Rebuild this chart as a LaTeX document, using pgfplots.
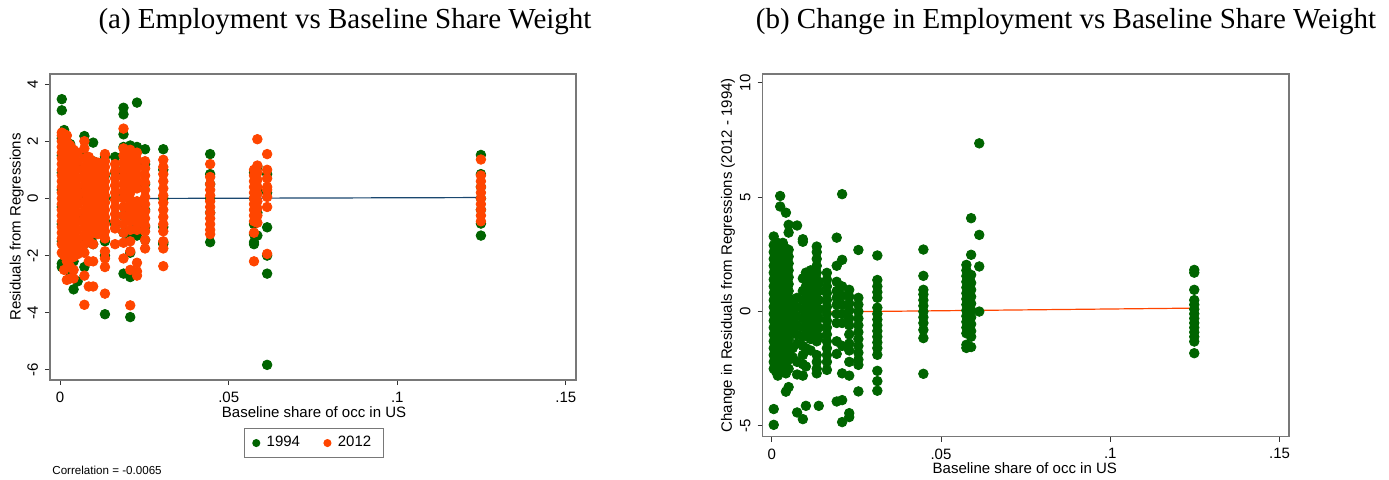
\documentclass[border=0pt]{standalone}
\usepackage{fontspec}
\setmainfont{Liberation Sans}
\newfontfamily\seriffont{Liberation Serif}
\usepackage{pgfplots}
\pgfplotsset{compat=1.18}

\definecolor{dkgreen}{RGB}{0,100,0}
\definecolor{orred}{RGB}{255,69,0}
\definecolor{statanavy}{RGB}{26,71,111}
\definecolor{framegray}{RGB}{120,120,120}

\pgfplotsset{
  statastyle/.style={
    scale only axis,
    axis line style={framegray, line width=0.7pt},
    tick pos=left, tick align=outside,
    major tick length=2.5pt,
    every tick/.style={black!80, line width=0.5pt},
    font=\fontsize{7.5}{9}\selectfont,
    /pgf/number format/assume math mode=true,
    xtick={0,0.05,0.1,0.15},
    xticklabels={0,.05,.1,.15},
    yticklabel style={rotate=90, anchor=south},
  },
  grn/.style={only marks, mark=*, mark size=2.4pt, color=dkgreen},
  org/.style={only marks, mark=*, mark size=2.4pt, color=orred},
}

\begin{document}
\begin{tikzpicture}
\useasboundingbox (0,0) rectangle (694.5pt,239.5pt);

\node[font=\seriffont\fontsize{14.5}{16}\selectfont] at (172.5pt,228.5pt) {(a) Employment vs Baseline Share Weight};
\node[font=\seriffont\fontsize{14.5}{16}\selectfont] at (533pt,228.5pt) {(b) Change in Employment vs Baseline Share Weight};

% panel (a)
\begin{axis}[statastyle,
  at={(25pt,49.5pt)}, anchor=south west,
  width=263pt, height=153pt,
  xmin=-0.003, xmax=0.153, ymin=-6.35, ymax=4.35,
  ytick={-6,-4,...,4},
  xlabel={Baseline share of occ in US},
  ylabel={Residuals from Regressions},
  xlabel style={at={(axis description cs:0.502,-0.105)}, anchor=center},
  ylabel style={at={(axis description cs:-0.063,0.5)}, anchor=center},
  legend columns=2,
  legend style={at={(axis description cs:0.502,-0.206)}, anchor=center,
    draw=framegray, line width=0.6pt, font=\fontsize{7.5}{9}\selectfont,
    inner xsep=4pt,
    /tikz/every odd column/.append style={column sep=1.5pt},
    /tikz/every even column/.append style={column sep=10pt}},
  legend image post style={mark size=1.7pt},
]
\addplot[grn] coordinates {
(0.0005,3.47)(0.0005,3.08)(0.0005,2.1)(0.0005,1.5)(0.0005,0.9)(0.0005,0.3)(0.0005,-0.3)(0.0005,-0.9)(0.0005,-1.5)(0.0005,-2.28)(0.0005,-2.4)
(0.0012,2.39)(0.0012,1.7)(0.0012,1.0)(0.0012,0.2)(0.0012,-0.6)(0.0012,-1.4)(0.0012,-2.0)
(0.002,2.0)(0.002,1.2)(0.002,0.4)(0.002,-0.4)(0.002,-1.2)(0.002,-1.9)(0.002,-2.35)
(0.003,1.9)(0.003,1.0)(0.003,0.0)(0.003,-1.0)(0.003,-2.0)(0.003,-2.6)
(0.004,1.4)(0.004,0.5)(0.004,-0.5)(0.004,-1.5)(0.004,-2.2)(0.004,-3.18)
(0.0052,1.2)(0.0052,0.3)(0.0052,-0.6)(0.0052,-1.5)(0.0052,-2.9)
(0.0072,2.18)(0.0072,1.5)(0.0072,0.8)(0.0072,0.0)(0.0072,-0.8)(0.0072,-1.6)(0.0072,-2.4)
(0.0085,1.2)(0.0085,0.5)(0.0085,-0.3)(0.0085,-1.3)(0.0085,-1.45)
(0.0098,1.95)(0.0098,1.3)(0.0098,0.6)(0.0098,-0.4)(0.0098,-1.3)(0.0098,-1.6)
(0.0112,1.0)(0.0112,0.2)(0.0112,-0.6)(0.0112,-1.2)
(0.0133,1.45)(0.0133,0.8)(0.0133,0.0)(0.0133,-0.8)(0.0133,-1.5)(0.0133,-2.0)(0.0133,-4.05)
(0.0163,1.45)(0.0163,0.9)(0.0163,0.0)(0.0163,-0.9)
(0.0188,3.17)(0.0188,2.94)(0.0188,2.24)(0.0188,1.8)(0.0188,1.0)(0.0188,0.2)(0.0188,-0.6)(0.0188,-1.2)(0.0188,-2.63)
(0.0208,1.85)(0.0208,1.2)(0.0208,0.4)(0.0208,-0.5)(0.0208,-1.4)(0.0208,-1.9)(0.0208,-2.75)(0.0208,-4.15)
(0.0228,3.35)(0.0228,1.8)(0.0228,1.2)(0.0228,0.5)(0.0228,-0.3)(0.0228,-1.0)(0.0228,-1.3)
(0.0252,1.72)(0.0252,1.2)(0.0252,0.5)(0.0252,-0.4)(0.0252,-1.0)(0.0252,-1.45)
(0.0306,1.72)(0.0306,1.0)(0.0306,0.0)(0.0306,-1.0)(0.0306,-1.6)(0.0306,-1.55)
(0.0445,1.55)(0.0445,0.85)(0.0445,0.5)(0.0445,0.0)(0.0445,-0.5)(0.0445,-1.53)
(0.0575,0.9)(0.0575,0.0)(0.0575,-0.9)(0.0575,-1.25)(0.0575,-1.53)(0.0575,-1.6)
(0.0585,1.1)(0.0585,0.3)(0.0585,-0.5)(0.0585,-1.3)
(0.0614,0.85)(0.0614,0.2)(0.0614,-1.01)(0.0614,-2.0)(0.0614,-2.63)(0.0614,-5.82)
(0.1248,1.52)(0.1248,0.85)(0.1248,0.4)(0.1248,0.0)(0.1248,-0.4)(0.1248,-0.88)(0.1248,-1.3)
};
\addlegendentry{1994}
\addplot[org] coordinates {
(0.0005,2.3)(0.0005,2.2)(0.0005,2.0)(0.0005,1.8)(0.0005,1.6)(0.0005,1.4)(0.0005,1.2)(0.0005,1.0)(0.0005,0.8)(0.0005,0.6)(0.0005,0.4)(0.0005,0.2)(0.0005,0.0)(0.0005,-0.2)(0.0005,-0.4)(0.0005,-0.6)(0.0005,-0.8)(0.0005,-1.0)(0.0005,-1.2)(0.0005,-1.4)(0.0005,-1.6)(0.0005,-1.9)
(0.0012,2.25)(0.0012,1.9)(0.0012,1.7)(0.0012,1.5)(0.0012,1.3)(0.0012,1.1)(0.0012,0.9)(0.0012,0.7)(0.0012,0.5)(0.0012,0.3)(0.0012,0.1)(0.0012,-0.1)(0.0012,-0.3)(0.0012,-0.5)(0.0012,-0.7)(0.0012,-0.9)(0.0012,-1.1)(0.0012,-1.3)(0.0012,-1.5)(0.0012,-1.8)(0.0012,-2.0)(0.0012,-2.5)
(0.002,2.2)(0.002,2.0)(0.002,1.75)(0.002,1.5)(0.002,1.25)(0.002,1.0)(0.002,0.75)(0.002,0.5)(0.002,0.25)(0.002,0)(0.002,-0.25)(0.002,-0.5)(0.002,-0.75)(0.002,-1.0)(0.002,-1.25)(0.002,-1.5)(0.002,-1.75)(0.002,-2.0)(0.002,-2.2)(0.002,-2.85)
(0.003,1.85)(0.003,1.6)(0.003,1.4)(0.003,1.2)(0.003,0.95)(0.003,0.7)(0.003,0.45)(0.003,0.2)(0.003,-0.05)(0.003,-0.3)(0.003,-0.55)(0.003,-0.8)(0.003,-1.05)(0.003,-1.3)(0.003,-1.55)(0.003,-1.8)(0.003,-2.1)(0.003,-2.4)(0.003,-2.8)
(0.004,1.7)(0.004,1.45)(0.004,1.2)(0.004,0.9)(0.004,0.6)(0.004,0.3)(0.004,0)(0.004,-0.3)(0.004,-0.6)(0.004,-0.9)(0.004,-1.2)(0.004,-1.5)(0.004,-1.8)(0.004,-2.05)(0.004,-2.5)(0.004,-2.8)
(0.0052,1.6)(0.0052,1.3)(0.0052,1.0)(0.0052,0.7)(0.0052,0.4)(0.0052,0.1)(0.0052,-0.2)(0.0052,-0.5)(0.0052,-0.8)(0.0052,-1.1)(0.0052,-1.4)(0.0052,-1.7)(0.0052,-1.95)
(0.0072,2.0)(0.0072,1.75)(0.0072,1.4)(0.0072,1.1)(0.0072,0.8)(0.0072,0.5)(0.0072,0.2)(0.0072,-0.1)(0.0072,-0.4)(0.0072,-0.7)(0.0072,-1.0)(0.0072,-1.3)(0.0072,-1.6)(0.0072,-1.9)(0.0072,-2.7)(0.0072,-3.72)
(0.0085,1.45)(0.0085,1.2)(0.0085,0.9)(0.0085,0.6)(0.0085,0.3)(0.0085,0.0)(0.0085,-0.3)(0.0085,-0.6)(0.0085,-0.9)(0.0085,-1.2)(0.0085,-1.45)(0.0085,-2.2)(0.0085,-3.08)
(0.0098,1.3)(0.0098,1.05)(0.0098,0.8)(0.0098,0.55)(0.0098,0.3)(0.0098,0.05)(0.0098,-0.2)(0.0098,-0.45)(0.0098,-0.7)(0.0098,-0.95)(0.0098,-1.2)(0.0098,-1.6)(0.0098,-2.2)(0.0098,-3.08)
(0.0112,1.25)(0.0112,1.0)(0.0112,0.75)(0.0112,0.5)(0.0112,0.25)(0.0112,0)(0.0112,-0.25)(0.0112,-0.5)(0.0112,-0.75)(0.0112,-1.0)(0.0112,-1.25)
(0.0133,1.55)(0.0133,1.3)(0.0133,1.1)(0.0133,0.85)(0.0133,0.6)(0.0133,0.35)(0.0133,0.1)(0.0133,-0.15)(0.0133,-0.4)(0.0133,-0.65)(0.0133,-0.9)(0.0133,-1.15)(0.0133,-1.4)(0.0133,-1.85)(0.0133,-2.1)(0.0133,-2.4)(0.0133,-3.33)
(0.0163,1.2)(0.0163,0.95)(0.0163,0.7)(0.0163,0.45)(0.0163,0.2)(0.0163,-0.05)(0.0163,-0.3)(0.0163,-0.55)(0.0163,-0.8)(0.0163,-1.05)(0.0163,-1.6)
(0.0188,2.44)(0.0188,1.75)(0.0188,1.5)(0.0188,1.25)(0.0188,1.0)(0.0188,0.75)(0.0188,0.5)(0.0188,0.25)(0.0188,0)(0.0188,-0.3)(0.0188,-0.6)(0.0188,-0.9)(0.0188,-1.2)(0.0188,-1.55)(0.0188,-2.1)
(0.0208,1.7)(0.0208,1.45)(0.0208,1.2)(0.0208,0.95)(0.0208,0.7)(0.0208,0.45)(0.0208,0.2)(0.0208,-0.05)(0.0208,-0.3)(0.0208,-0.55)(0.0208,-0.8)(0.0208,-1.1)(0.0208,-1.5)(0.0208,-1.85)(0.0208,-2.5)(0.0208,-3.74)
(0.0228,1.6)(0.0228,1.35)(0.0228,1.1)(0.0228,0.85)(0.0228,0.6)(0.0228,0.35)(0.0228,-0.1)(0.0228,-0.35)(0.0228,-0.6)(0.0228,-0.85)(0.0228,-1.1)(0.0228,-2.25)(0.0228,-2.55)(0.0228,-2.7)
(0.0252,1.3)(0.0252,1.05)(0.0252,0.8)(0.0252,0.55)(0.0252,0.3)(0.0252,0.05)(0.0252,-0.2)(0.0252,-0.45)(0.0252,-0.7)(0.0252,-0.95)(0.0252,-1.15)(0.0252,-1.45)(0.0252,-1.75)
(0.0306,1.35)(0.0306,1.1)(0.0306,0.85)(0.0306,0.6)(0.0306,0.35)(0.0306,0.1)(0.0306,-0.15)(0.0306,-0.4)(0.0306,-0.65)(0.0306,-0.9)(0.0306,-1.15)(0.0306,-1.5)(0.0306,-1.75)(0.0306,-2.37)
(0.0445,1.2)(0.0445,0.75)(0.0445,0.5)(0.0445,0.3)(0.0445,0.1)(0.0445,-0.1)(0.0445,-0.3)(0.0445,-0.5)(0.0445,-0.7)(0.0445,-0.9)(0.0445,-1.1)(0.0445,-1.25)
(0.0575,1.0)(0.0575,0.8)(0.0575,0.6)(0.0575,0.4)(0.0575,0.2)(0.0575,0.0)(0.0575,-0.2)(0.0575,-0.4)(0.0575,-0.6)(0.0575,-0.8)(0.0575,-1.2)(0.0575,-2.2)
(0.0585,2.07)(0.0585,1.15)(0.0585,0.9)(0.0585,0.65)(0.0585,0.4)(0.0585,0.15)(0.0585,-0.1)(0.0585,-0.35)(0.0585,-0.6)(0.0585,-0.85)
(0.0614,1.55)(0.0614,1.0)(0.0614,0.7)(0.0614,0.4)(0.0614,0.3)(0.0614,0.05)(0.0614,-0.3)(0.0614,-1.94)
(0.1248,1.36)(0.1248,0.8)(0.1248,0.6)(0.1248,0.4)(0.1248,0.2)(0.1248,0.0)(0.1248,-0.2)(0.1248,-0.4)(0.1248,-0.6)(0.1248,-0.8)
};
\addlegendentry{2012}
\addplot[statanavy, line width=0.6pt, forget plot] coordinates {(0.0005,-0.01)(0.1248,0.03)};
\end{axis}

\node[anchor=west, inner sep=0pt, font=\fontsize{5.8}{7}\selectfont] at (26pt,4.5pt) {Correlation = -0.0065};

% panel (b)
\begin{axis}[statastyle,
  at={(381.35pt,21.25pt)}, anchor=south west,
  width=263.15pt, height=181.25pt,
  xmin=-0.00266, xmax=0.15278, ymin=-5.46, ymax=10.38,
  ytick={-5,0,5,10},
  xlabel={Baseline share of occ in US},
  ylabel={Change in Residuals from Regressions (2012 - 1994)},
  xlabel style={at={(axis description cs:0.498,-0.086)}, anchor=center},
  ylabel style={at={(axis description cs:-0.066,0.5)}, anchor=center},
]
\addplot[grn] coordinates {
(0.0006,3.28)(0.0006,2.9)(0.0006,2.6)(0.0006,2.3)(0.0006,2.0)(0.0006,1.7)(0.0006,1.4)(0.0006,1.1)(0.0006,0.8)(0.0006,0.5)(0.0006,0.2)(0.0006,-0.1)(0.0006,-0.4)(0.0006,-0.7)(0.0006,-1.0)(0.0006,-1.3)(0.0006,-1.6)(0.0006,-1.9)(0.0006,-2.2)(0.0006,-2.5)(0.0006,-4.26)(0.0006,-4.95)
(0.0012,2.2)(0.0012,1.9)(0.0012,1.6)(0.0012,1.3)(0.0012,1.0)(0.0012,0.7)(0.0012,0.4)(0.0012,0.1)(0.0012,-0.2)(0.0012,-0.5)(0.0012,-0.8)(0.0012,-1.1)(0.0012,-1.4)(0.0012,-1.7)(0.0012,-2.6)
(0.0018,3.0)(0.0018,2.7)(0.0018,2.4)(0.0018,2.1)(0.0018,1.8)(0.0018,1.5)(0.0018,1.2)(0.0018,0.9)(0.0018,0.6)(0.0018,0.3)(0.0018,0.0)(0.0018,-0.3)(0.0018,-0.6)(0.0018,-0.9)(0.0018,-1.2)(0.0018,-1.5)(0.0018,-1.8)(0.0018,-2.1)(0.0018,-2.4)(0.0018,-2.8)
(0.0025,5.05)(0.0025,4.59)(0.0025,2.8)(0.0025,2.5)(0.0025,2.2)(0.0025,1.9)(0.0025,1.6)(0.0025,1.3)(0.0025,1.0)(0.0025,0.7)(0.0025,0.4)(0.0025,0.1)(0.0025,-0.2)(0.0025,-0.5)(0.0025,-0.8)(0.0025,-1.1)(0.0025,-1.4)(0.0025,-1.7)(0.0025,-2.0)(0.0025,-2.3)(0.0025,-2.6)
(0.0033,3.0)(0.0033,2.7)(0.0033,2.4)(0.0033,2.1)(0.0033,1.8)(0.0033,1.5)(0.0033,1.2)(0.0033,0.9)(0.0033,0.6)(0.0033,0.3)(0.0033,0.0)(0.0033,-0.3)(0.0033,-0.6)(0.0033,-0.9)(0.0033,-1.2)(0.0033,-1.5)(0.0033,-1.8)(0.0033,-2.1)(0.0033,-2.4)
(0.0042,4.32)(0.0042,2.75)(0.0042,2.45)(0.0042,2.15)(0.0042,1.85)(0.0042,1.55)(0.0042,1.25)(0.0042,0.95)(0.0042,0.65)(0.0042,0.35)(0.0042,0.05)(0.0042,-0.25)(0.0042,-0.55)(0.0042,-0.85)(0.0042,-1.15)(0.0042,-1.45)(0.0042,-1.75)(0.0042,-2.05)(0.0042,-2.35)(0.0042,-2.7)(0.0042,-3.5)
(0.005,3.79)(0.005,3.45)(0.005,2.7)(0.005,2.4)(0.005,2.1)(0.005,1.8)(0.005,1.5)(0.005,1.2)(0.005,0.9)(0.005,0.6)(0.005,0.3)(0.005,0.0)(0.005,-0.3)(0.005,-0.6)(0.005,-0.9)(0.005,-1.2)(0.005,-1.5)(0.005,-1.8)(0.005,-2.1)(0.005,-2.5)(0.005,-3.3)
(0.0062,0.3)(0.0062,0.0)(0.0062,-0.3)(0.0062,-0.6)(0.0062,-0.9)(0.0062,-1.6)(0.0062,-2.0)
(0.0075,3.76)(0.0075,0.6)(0.0075,0.2)(0.0075,-0.2)(0.0075,-0.6)(0.0075,-1.0)(0.0075,-1.4)(0.0075,-2.2)(0.0075,-2.75)(0.0075,-4.41)
(0.0092,3.16)(0.0092,3.05)(0.0092,1.45)(0.0092,0.9)(0.0092,0.5)(0.0092,0.1)(0.0092,-0.3)(0.0092,-0.7)(0.0092,-1.1)(0.0092,-1.5)(0.0092,-1.9)(0.0092,-2.3)(0.0092,-2.8)(0.0092,-4.7)
(0.0101,1.7)(0.0101,1.4)(0.0101,1.1)(0.0101,0.8)(0.0101,0.5)(0.0101,0.2)(0.0101,-0.1)(0.0101,-0.4)(0.0101,-0.7)(0.0101,-1.0)(0.0101,-1.6)(0.0101,-2.4)(0.0101,-4.12)
(0.0115,1.8)(0.0115,1.5)(0.0115,1.2)(0.0115,0.9)(0.0115,0.6)(0.0115,0.3)(0.0115,0.0)(0.0115,-0.3)(0.0115,-0.6)(0.0115,-0.9)(0.0115,-1.2)(0.0115,-1.7)
(0.0133,2.84)(0.0133,2.6)(0.0133,2.3)(0.0133,2.0)(0.0133,1.7)(0.0133,1.4)(0.0133,1.1)(0.0133,0.8)(0.0133,0.5)(0.0133,0.2)(0.0133,-0.1)(0.0133,-0.4)(0.0133,-0.7)(0.0133,-1.0)(0.0133,-1.3)(0.0133,-1.9)(0.0133,-2.2)(0.0133,-2.5)(0.0133,-2.7)
(0.0139,1.3)(0.0139,0.9)(0.0139,0.5)(0.0139,0.1)(0.0139,-0.3)(0.0139,-0.7)(0.0139,-1.1)(0.0139,-4.12)
(0.0163,1.69)(0.0163,1.4)(0.0163,1.1)(0.0163,0.8)(0.0163,0.5)(0.0163,0.2)(0.0163,-0.1)(0.0163,-0.4)(0.0163,-0.7)(0.0163,-1.0)(0.0163,-1.3)(0.0163,-1.6)(0.0163,-1.9)(0.0163,-2.2)(0.0163,-2.55)
(0.0192,3.23)(0.0192,2.0)(0.0192,1.3)(0.0192,0.9)(0.0192,0.6)(0.0192,0.3)(0.0192,-0.1)(0.0192,-0.5)(0.0192,-1.3)(0.0192,-1.85)(0.0192,-3.93)
(0.0208,5.13)(0.0208,2.26)(0.0208,1.1)(0.0208,0.7)(0.0208,0.3)(0.0208,-0.1)(0.0208,-0.5)(0.0208,-1.5)(0.0208,-2.7)(0.0208,-3.87)(0.0208,-4.83)
(0.0229,0.95)(0.0229,0.65)(0.0229,0.35)(0.0229,0.05)(0.0229,-0.3)(0.0229,-0.6)(0.0229,-1.0)(0.0229,-1.4)(0.0229,-1.7)(0.0229,-2.2)(0.0229,-2.8)(0.0229,-4.44)(0.0229,-4.61)
(0.0256,2.69)(0.0256,0.6)(0.0256,0.3)(0.0256,0.0)(0.0256,-0.3)(0.0256,-0.6)(0.0256,-0.9)(0.0256,-1.2)(0.0256,-1.5)(0.0256,-1.8)(0.0256,-2.1)(0.0256,-2.33)(0.0256,-3.49)
(0.0312,2.45)(0.0312,1.38)(0.0312,1.1)(0.0312,0.85)(0.0312,0.6)(0.0312,0.17)(0.0312,-0.1)(0.0312,-0.35)(0.0312,-0.6)(0.0312,-0.85)(0.0312,-1.1)(0.0312,-1.35)(0.0312,-1.6)(0.0312,-1.89)(0.0312,-2.59)(0.0312,-3.04)(0.0312,-3.46)
(0.0448,2.71)(0.0448,1.56)(0.0448,0.95)(0.0448,0.75)(0.0448,0.5)(0.0448,0.25)(0.0448,0.0)(0.0448,-0.25)(0.0448,-0.5)(0.0448,-0.8)(0.0448,-1.16)(0.0448,-2.72)
(0.0575,2.04)(0.0575,1.8)(0.0575,1.55)(0.0575,1.3)(0.0575,1.05)(0.0575,0.8)(0.0575,0.55)(0.0575,0.3)(0.0575,0.05)(0.0575,-0.2)(0.0575,-0.45)(0.0575,-0.7)(0.0575,-0.95)(0.0575,-1.45)(0.0575,-1.59)
(0.0589,4.08)(0.0589,2.48)(0.0589,1.6)(0.0589,1.25)(0.0589,0.95)(0.0589,0.65)(0.0589,0.35)(0.0589,0.05)(0.0589,-0.25)(0.0589,-0.55)(0.0589,-0.85)(0.0589,-1.1)(0.0589,-1.55)
(0.0613,7.35)(0.0613,3.35)(0.0613,1.97)(0.0613,0.0)
(0.1248,1.82)(0.1248,1.7)(0.1248,0.95)(0.1248,0.5)(0.1248,0.3)(0.1248,0.1)(0.1248,-0.1)(0.1248,-0.3)(0.1248,-0.5)(0.1248,-0.7)(0.1248,-0.9)(0.1248,-1.1)(0.1248,-1.31)(0.1248,-1.82)
};
\addplot[orred, line width=0.6pt] coordinates {(0.0009,-0.04)(0.1248,0.15)};
\end{axis}
\end{tikzpicture}
\end{document}
